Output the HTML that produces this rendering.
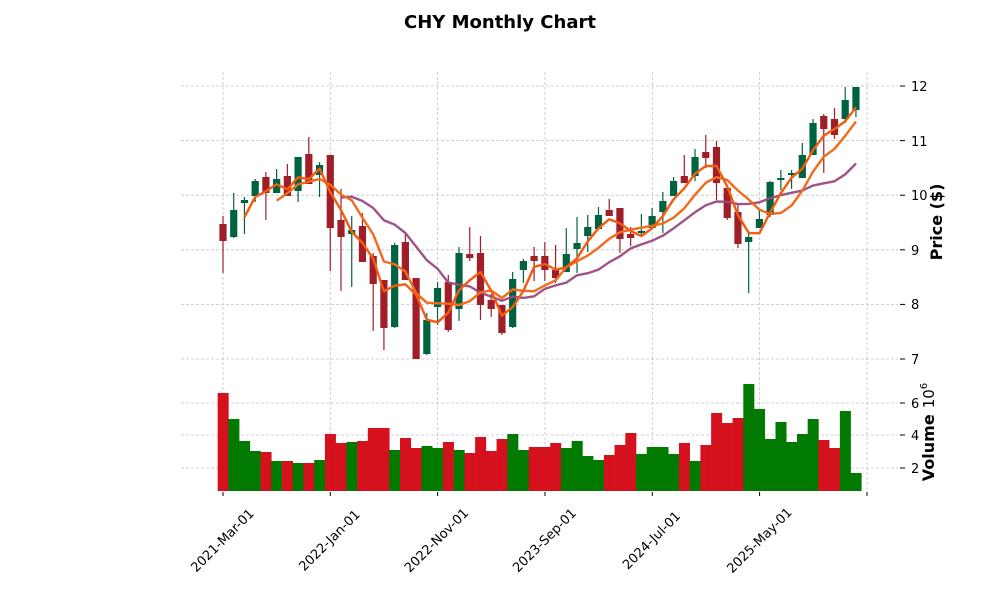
<!DOCTYPE html>
<html><head><meta charset="utf-8"><style>
html,body{margin:0;padding:0;background:#fff;}
svg{display:block;font-family:"DejaVu Sans","Liberation Sans",sans-serif;}
</style></head><body>
<svg id="s" width="1000" height="600" viewBox="0 0 1000 600" xmlns="http://www.w3.org/2000/svg">
<rect width="1000" height="600" fill="#fff"/>
<text x="500" y="28" text-anchor="middle" font-size="18" font-weight="bold">CHY Monthly Chart</text>
<g id="grid" stroke="#c4c4c4" stroke-width="0.8" stroke-dasharray="3,2" fill="none"></g>
<g id="vol"></g>
<g id="cand"></g>
<g id="ma" fill="none" stroke-width="2.4" stroke-linejoin="round"></g>
<g font-size="13" fill="#000">
<text x="911" y="91">12</text><text x="911" y="146">11</text><text x="911" y="200">10</text>
<text x="911" y="255">9</text><text x="911" y="309">8</text><text x="911" y="364">7</text>
<text x="911" y="408">6</text><text x="911" y="440">4</text><text x="911" y="473">2</text>
</g>
<g stroke="#000" stroke-width="1">
<line x1="900" y1="86" x2="905" y2="86"/><line x1="900" y1="140.6" x2="905" y2="140.6"/><line x1="900" y1="195.2" x2="905" y2="195.2"/>
<line x1="900" y1="249.8" x2="905" y2="249.8"/><line x1="900" y1="304.4" x2="905" y2="304.4"/><line x1="900" y1="359" x2="905" y2="359"/>
<line x1="900" y1="403" x2="905" y2="403"/><line x1="900" y1="435" x2="905" y2="435"/><line x1="900" y1="468" x2="905" y2="468"/>
</g>
<text transform="translate(942,222) rotate(-90)" text-anchor="middle" font-size="16" font-weight="bold">Price ($)</text>
<text transform="translate(934,432) rotate(-90)" text-anchor="middle" font-size="16"><tspan font-weight="bold">Volume</tspan><tspan dx="6" font-size="15">10</tspan><tspan dy="-7" font-size="10">6</tspan></text>
<g font-size="13" text-anchor="middle">
<text transform="translate(223,541) rotate(-45)" dominant-baseline="middle">2021-Mar-01</text>
<text transform="translate(330,541) rotate(-45)" dominant-baseline="middle">2022-Jan-01</text>
<text transform="translate(437,541) rotate(-45)" dominant-baseline="middle">2022-Nov-01</text>
<text transform="translate(545,541) rotate(-45)" dominant-baseline="middle">2023-Sep-01</text>
<text transform="translate(652,541) rotate(-45)" dominant-baseline="middle">2024-Jul-01</text>
<text transform="translate(760,541) rotate(-45)" dominant-baseline="middle">2025-May-01</text>
</g>
</svg>
<script>
var NS="http://www.w3.org/2000/svg";
function el(p,t,a){var e=document.createElementNS(NS,t);for(var k in a)e.setAttribute(k,a[k]);p.appendChild(e);return e;}
var grid=document.getElementById("grid");
[86,140.6,195.2,249.8,304.4,359,403,435,468].forEach(function(y){el(grid,"line",{x1:181,x2:898,y1:y,y2:y});});
var gx=[223,330.3,437.6,545,652.3,759.6,867];
gx.forEach(function(x){el(grid,"line",{x1:x,x2:x,y1:72,y2:491});});
var tk=document.getElementById("s");
gx.forEach(function(x){el(tk,"line",{x1:x,x2:x,y1:492,y2:496,stroke:"#000","stroke-width":1});});
var C=[[224,241,216,273,0],[210,237,193,238,1],[200,203,197,234,1],[181,196,179,202,1],[177,193,172,220,0],
[179,193,169,193,1],[176,196,164,196,0],[157,191,157,202,1],[154,184,137,184,0],[165,175,162,197,1],
[155,228,155,271,0],[220,237,189,291,0],[230,234,216,287,1],[226,262,213,262,0],[256,284,253,331,0],
[280,328,280,350,0],[245,327,243,328,1],[242,280,234,280,0],[278,359,278,359,0],[320,354,313,355,1],
[288,307,282,325,1],[282,330,275,332,0],[253,309,247,321,1],[254,258,227,261,0],[253,305,236,320,0],
[300,309,294,317,0],[305,333,305,335,0],[279,327,272,328,1],[261,270,259,283,1],[256,261,247,281,0],
[256,270,242,281,0],[270,278,245,283,0],[254,272,228,272,1],[243,249,217,273,1],[227,236,215,252,1],
[215,229,207,229,1],[210,216,199,216,0],[208,239,208,253,0],[234,238,227,246,0],[231,233,214,237,1],
[216,228,208,228,1],[201,212,192,233,1],[181,196,177,196,1],[176,183,155,183,0],[157,176,149,181,1],
[152,158,135,168,0],[147,183,141,200,0],[188,218,188,220,0],[212,244,205,248,0],[237,242,233,293,1],
[219,228,210,228,1],[182,215,181,217,1],[178,180,170,190,1],[173,175,170,189,1],[155,178,143,178,1],
[123,155,119,155,1],[116,129,114,173,0],[119,135,108,139,0],[100,119,87,123,1],[87,110,87,117,1]];
var V=[393,419,441,451,452,461,461,463,463,460,434,443,442,441,428,428,450,438,448,446,448,442,450,453,437,451,439,434,450,447,
447,443,448,441,456,460,455,445,433,454,447,447,454,443,461,445,413,423,418,384,409,439,422,442,434,419,440,448,411,473];
var dx=10.728, x0=223;
var vg=document.getElementById("vol"), cg=document.getElementById("cand");
C.forEach(function(c,i){
  var x=x0+i*dx, g=c[4];
  var vc=g?"#007a00":"#d4111c";
  el(vg,"rect",{x:x-dx/2,y:V[i],width:dx+0.3,height:491-V[i],fill:vc});
  var col=g?"#006340":"#a01e28";
  el(cg,"line",{x1:x,x2:x,y1:c[2],y2:c[3],stroke:col,"stroke-width":1.2});
  el(cg,"rect",{x:x-3.6,y:c[0],width:7.2,height:Math.max(1.5,c[1]-c[0]),fill:col});
});
var cl=C.map(function(c){return c[4]?c[0]:c[1];});
function ma(n,color,op){
  var pts=[];
  for(var i=n-1;i<cl.length;i++){var s=0;for(var j=i-n+1;j<=i;j++)s+=cl[j];pts.push((x0+i*dx).toFixed(1)+","+(s/n).toFixed(1));}
  el(document.getElementById("ma"),"polyline",{points:pts.join(" "),stroke:color,"stroke-opacity":op});
}
ma(12,"#9a4a80",0.95);ma(6,"#f26a1b",1);ma(3,"#f45a10",1);
</script>
</body></html>
